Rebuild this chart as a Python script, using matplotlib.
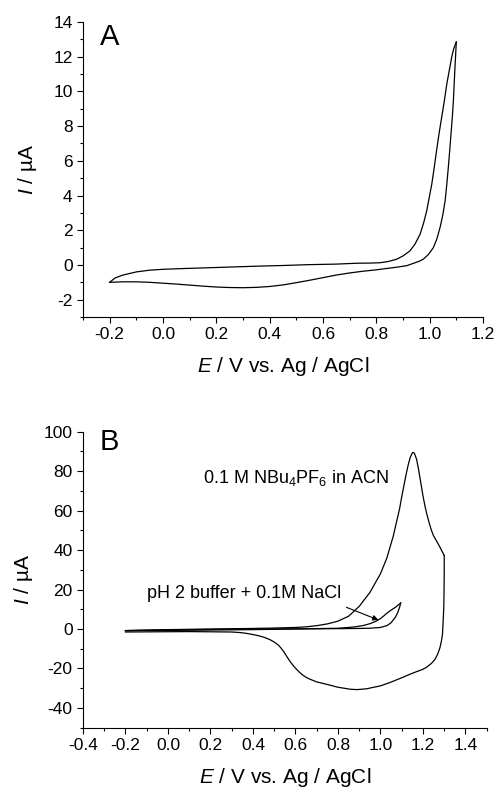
import matplotlib
matplotlib.use("Agg")
import matplotlib.pyplot as plt
from matplotlib.ticker import MultipleLocator, FormatStrFormatter

plt.rcParams["font.family"] = ["Liberation Sans", "DejaVu Sans"]
plt.rcParams["mathtext.fontset"] = "custom"
plt.rcParams["mathtext.rm"] = "Liberation Sans"
plt.rcParams["mathtext.it"] = "Liberation Sans:italic"
plt.rcParams["axes.unicode_minus"] = False

# ---------------------------------------------------------------- panel A data
a_fwd_E = [-0.20, -0.15, -0.10, -0.05, 0.00, 0.05, 0.10, 0.15, 0.20, 0.25, 0.30,
           0.35, 0.40, 0.45, 0.50, 0.55, 0.60, 0.65, 0.70, 0.75, 0.80, 0.814,
           0.85, 0.88, 0.914, 0.94, 0.96, 0.976, 0.995, 1.014, 1.027, 1.039,
           1.049, 1.058, 1.064, 1.070, 1.075, 1.080, 1.085, 1.089, 1.095, 1.10]
a_fwd_I = [-1.00, -0.97, -0.97, -1.00, -1.05, -1.10, -1.16, -1.22, -1.27, -1.30, -1.31,
           -1.29, -1.24, -1.15, -1.02, -0.88, -0.73, -0.58, -0.46, -0.36, -0.28, -0.25,
           -0.18, -0.12, -0.04, 0.10, 0.21, 0.33, 0.60, 1.00, 1.50, 2.16,
           2.85, 3.70, 4.60, 5.62, 6.55, 7.55, 8.50, 9.48, 11.4, 12.85]
a_rev_E = [1.10, 1.09, 1.083, 1.074, 1.064, 1.055, 1.045, 1.035, 1.026, 1.017, 1.008,
           0.998, 0.989, 0.977, 0.964, 0.945, 0.926, 0.90, 0.876, 0.845, 0.814, 0.78,
           0.726, 0.65, 0.55, 0.45, 0.35, 0.25, 0.15, 0.05, 0.00, -0.05, -0.10,
           -0.15, -0.18, -0.20]
a_rev_I = [12.85, 12.45, 12.0, 11.25, 10.4, 9.45, 8.5, 7.55, 6.6, 5.6, 4.66,
           3.85, 3.12, 2.40, 1.77, 1.20, 0.81, 0.52, 0.33, 0.20, 0.13, 0.11,
           0.10, 0.05, 0.02, -0.03, -0.07, -0.12, -0.17, -0.22, -0.25, -0.30, -0.40,
           -0.58, -0.75, -1.00]

# ---------------------------------------------------------------- panel B data
# 0.1 M NBu4PF6 in ACN
acn_fwd_E = [-0.20, 0.00, 0.20, 0.40, 0.50, 0.60, 0.65, 0.70, 0.75, 0.80, 0.85, 0.90,
             0.95, 1.00, 1.03, 1.06, 1.09, 1.10, 1.11, 1.12, 1.13, 1.14, 1.15, 1.155,
             1.16, 1.17, 1.18, 1.19, 1.20, 1.21, 1.22, 1.23, 1.24, 1.25, 1.264,
             1.28, 1.29, 1.30]
acn_fwd_I = [-0.8, -0.3, 0.0, 0.3, 0.5, 0.8, 1.1, 1.7, 2.6, 4.0, 6.5, 11.5,
             18.5, 28, 36, 47, 61, 67, 72.5, 78, 83, 87, 89.3, 89.5,
             89, 86, 80.5, 74, 67.5, 62, 57.5, 53.5, 50, 47.2, 44.6,
             41.5, 39.3, 37.3]
acn_rev_E = [1.30, 1.300, 1.299, 1.298, 1.295, 1.292, 1.287, 1.280, 1.27, 1.257, 1.24,
             1.218, 1.20, 1.17, 1.139, 1.10, 1.045, 1.00, 0.934, 0.89, 0.857, 0.80,
             0.746, 0.70, 0.67, 0.652, 0.635, 0.62, 0.605, 0.59, 0.577, 0.565, 0.553,
             0.543, 0.53, 0.52, 0.50, 0.48, 0.455, 0.43, 0.40, 0.37, 0.34, 0.30,
             0.10, -0.20]
acn_rev_I = [37.3, 28, 18, 11, 4, -2.5, -6, -9.4, -12.5, -15.3, -17.4,
             -19.3, -20.4, -21.6, -22.9, -24.7, -27.1, -28.8, -30.3, -30.7, -30.5, -29.5,
             -28, -26.8, -25.5, -24.6, -23.4, -22.0, -20.4, -18.6, -16.8, -14.9, -12.9,
             -11.2, -9.4, -8.2, -6.6, -5.4, -4.3, -3.5, -2.8, -2.2, -1.8, -1.5,
             -1.3, -1.5]

# pH 2 buffer + 0.1M NaCl
ph2_fwd_E = [-0.20, 0.00, 0.20, 0.40, 0.60, 0.80, 0.90, 0.95, 1.00, 1.03, 1.05,
             1.07, 1.08, 1.09, 1.095]
ph2_fwd_I = [-0.8, -0.4, -0.2, 0.0, 0.1, 0.2, 0.3, 0.4, 0.8, 1.7, 3.2,
             6.0, 8.0, 11.0, 13.2]
ph2_rev_E = [1.095, 1.085, 1.07, 1.05, 1.03, 1.015, 1.00, 0.98, 0.95, 0.92, 0.88,
             0.84, 0.80, 0.60, 0.40, 0.20, 0.00, -0.20]
ph2_rev_I = [13.2, 12.3, 11.0, 9.6, 8.0, 6.6, 5.3, 4.0, 2.7, 1.8, 1.1,
             0.7, 0.4, 0.0, -0.3, -0.5, -0.7, -0.8]

label_acn = "0.1 M NBu$_4$PF$_6$ in ACN"
label_ph2 = "pH 2 buffer + 0.1M NaCl"
xlabel = "$E$ / V vs. Ag / AgCl"
ylabel = "$I$ / \u00b5A"

LW = 0.9
TICK = 12.5


def style(ax, xmaj, xmin, ymaj, ymin, ypad):
    for s in ("top", "right"):
        ax.spines[s].set_visible(False)
    for s in ("left", "bottom"):
        ax.spines[s].set_linewidth(0.8)
    ax.xaxis.set_major_locator(MultipleLocator(xmaj))
    ax.xaxis.set_minor_locator(MultipleLocator(xmin))
    ax.yaxis.set_major_locator(MultipleLocator(ymaj))
    ax.yaxis.set_minor_locator(MultipleLocator(ymin))
    ax.xaxis.set_major_formatter(FormatStrFormatter("%.1f"))
    ax.tick_params(which="major", direction="out", length=4.5, width=0.8,
                   labelsize=TICK, pad=3)
    ax.tick_params(which="minor", direction="out", length=2.5, width=0.8)
    ax.set_xlabel(xlabel, fontsize=15, labelpad=9)
    ax.set_ylabel(ylabel, fontsize=15, labelpad=ypad)


fig = plt.figure(figsize=(4.97, 7.92), dpi=100)

# ------------------------------------------------------------------ panel A
axA = fig.add_axes([0.167, 0.5997, 0.8048, 0.3725])
axA.plot(a_fwd_E, a_fwd_I, color="black", lw=LW)
axA.plot(a_rev_E, a_rev_I, color="black", lw=LW)
axA.set_xlim(-0.3, 1.2)
axA.set_ylim(-3, 14)
style(axA, 0.2, 0.1, 2, 1, 10)
axA.set_xticks([-0.2, 0.0, 0.2, 0.4, 0.6, 0.8, 1.0, 1.2])
axA.text(0.042, 0.95, "A", transform=axA.transAxes, fontsize=21, va="center", ha="left")

# ------------------------------------------------------------------ panel B
axB = fig.add_axes([0.167, 0.0812, 0.8123, 0.3737])
axB.plot(acn_fwd_E, acn_fwd_I, color="black", lw=LW)
axB.plot(acn_rev_E, acn_rev_I, color="black", lw=LW)
axB.plot(ph2_fwd_E, ph2_fwd_I, color="black", lw=LW)
axB.plot(ph2_rev_E, ph2_rev_I, color="black", lw=LW)
axB.set_xlim(-0.4, 1.5)
axB.set_ylim(-50, 100)
style(axB, 0.2, 0.1, 20, 10, 6)
axB.text(0.042, 0.966, "B", transform=axB.transAxes, fontsize=21, va="center", ha="left")
axB.text(0.166, 76.3, label_acn, fontsize=13, va="center", ha="left")
axB.text(-0.10, 17.8, label_ph2, fontsize=13, va="center", ha="left")
axB.annotate("", xy=(0.99, 4.6), xytext=(0.84, 11.0),
             arrowprops=dict(arrowstyle="-|>", color="black", lw=0.8,
                             mutation_scale=8, shrinkA=0, shrinkB=0))

fig.savefig("out.png", dpi=100)
